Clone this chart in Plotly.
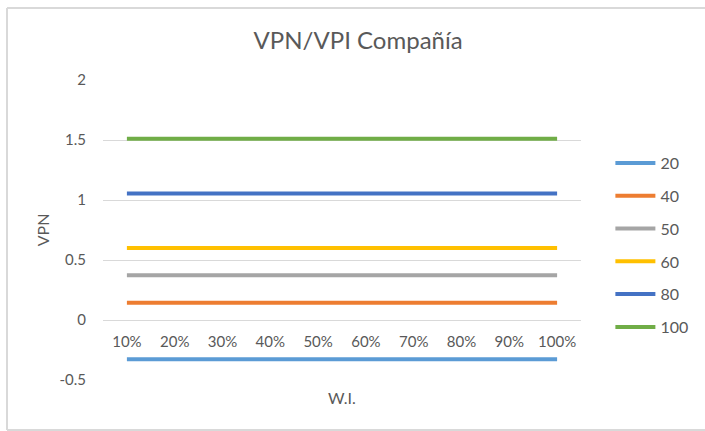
import plotly.graph_objects as go

categories = ["10%", "20%", "30%", "40%", "50%", "60%", "70%", "80%", "90%", "100%"]
series_names = ["20", "40", "50", "60", "80", "100"]
vpn_20 = [-0.327] * 10
vpn_40 = [0.144] * 10
vpn_50 = [0.372] * 10
vpn_60 = [0.600] * 10
vpn_80 = [1.054] * 10
vpn_100 = [1.510] * 10
series_values = [vpn_20, vpn_40, vpn_50, vpn_60, vpn_80, vpn_100]
colors = ["#5B9BD5", "#ED7D31", "#A5A5A5", "#FFC000", "#4472C4", "#70AD47"]
y_ticks = [-0.5, 0, 0.5, 1, 1.5, 2]
y_tick_labels = ["-0.5", "0", "0.5", "1", "1.5", "2"]

FONT = "Lato, Open Sans, sans-serif"
TXT = "#595959"

fig = go.Figure()
for name, vals, col in zip(series_names, series_values, colors):
    fig.add_trace(go.Scatter(
        x=categories, y=vals, name=name, mode="lines",
        line=dict(color=col, width=4), legendgroup=name,
    ))

W, H = 705, 431
L, R, T, B = 103, 114, 80, 51
pw, ph = W - L - R, H - T - B

fig.update_layout(
    width=W, height=H,
    margin=dict(l=L, r=R, t=T, b=B),
    paper_bgcolor="white", plot_bgcolor="white",
    font=dict(family=FONT, color=TXT, size=15),
    title=dict(text="VPN/VPI Compañía", x=0.508, xanchor="center",
               y=1 - 41 / H, yanchor="middle",
               font=dict(family=FONT, size=24, color=TXT)),
    legend=dict(x=(621 - L) / pw, xanchor="left",
                y=0.45, yanchor="middle",
                font=dict(family=FONT, size=16, color=TXT),
                itemwidth=40,
                tracegroupgap=9, bgcolor="rgba(0,0,0,0)"),
    xaxis=dict(type="category", anchor="free", position=0.2,
               showgrid=False, showline=False, zeroline=False, ticks="",
               ticklabelstandoff=11,
               tickfont=dict(family=FONT, size=15, color=TXT),
               range=[-0.5, 9.5]),
    yaxis=dict(range=[-0.5, 2], tickvals=y_ticks, ticktext=y_tick_labels,
               showgrid=True, gridcolor="#D9D9D9", gridwidth=1,
               zeroline=False, showline=False, ticks="",
               ticklabelstandoff=16,
               tickfont=dict(family=FONT, size=15, color=TXT)),
    showlegend=True,
)

fig.add_annotation(text="VPN", xref="paper", yref="paper",
                   x=(41 - L) / pw, y=(380 - 230) / ph,
                   textangle=-90, showarrow=False,
                   xanchor="center", yanchor="middle",
                   font=dict(family=FONT, size=16, color=TXT))
fig.add_annotation(text="W.I.", xref="paper", yref="paper",
                   x=0.5, y=(380 - 397) / ph, showarrow=False,
                   xanchor="center", yanchor="middle",
                   font=dict(family=FONT, size=16, color=TXT))

# chart border (left, top, bottom edges; right edge lies outside the view)
bx0, bx1 = (5 - L) / pw, (760 - L) / pw
by0, by1 = (380 - 430) / ph, (380 - 8) / ph
border = dict(color="#D9D9D9", width=2)
fig.add_shape(type="line", xref="paper", yref="paper",
              x0=bx0, x1=bx0, y0=by0, y1=by1, line=border, layer="below")
fig.add_shape(type="line", xref="paper", yref="paper",
              x0=bx0, x1=bx1, y0=by1, y1=by1, line=border, layer="below")
fig.add_shape(type="line", xref="paper", yref="paper",
              x0=bx0, x1=bx1, y0=by0, y1=by0, line=border, layer="below")

fig.write_html("out.html", config={"displayModeBar": False},
               post_script="document.body.style.margin='0';document.body.style.overflow='hidden';")
